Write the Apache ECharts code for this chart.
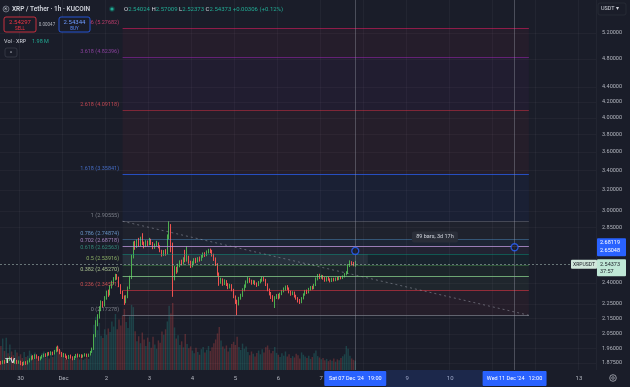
<!DOCTYPE html>
<html><head><meta charset="utf-8">
<script src="https://cdn.jsdelivr.net/npm/echarts@6/dist/echarts.min.js"></script>
<style>html,body{margin:0;padding:0;background:#1a1d29;}#c{width:630px;height:387px;}</style>
</head><body><div id="c"></div>
<script>
// ---------- DATA ----------
const startTime = Date.UTC(2024, 10, 29, 13); // first hourly slot (Nov 29 13:00)
const slotCount = 333;                         // hourly slots shown on the time axis
// hourly candles [open, close, low, high], Nov 29 13:00 -> Dec 7 19:00
const candles = [
[1.880,1.872,1.865,1.886],[1.872,1.885,1.868,1.890],[1.885,1.878,1.870,1.892],[1.878,1.895,1.875,1.902],
[1.895,1.890,1.882,1.905],[1.890,1.904,1.886,1.912],[1.904,1.896,1.888,1.910],[1.896,1.882,1.874,1.900],
[1.882,1.888,1.870,1.895],[1.888,1.876,1.868,1.893],[1.876,1.884,1.870,1.890],
[1.884,1.872,1.862,1.888],[1.872,1.866,1.858,1.880],[1.866,1.878,1.862,1.884],[1.878,1.870,1.864,1.885],
[1.870,1.883,1.866,1.890],[1.883,1.896,1.878,1.902],[1.896,1.910,1.890,1.918],[1.910,1.902,1.895,1.920],
[1.902,1.918,1.898,1.926],[1.918,1.908,1.900,1.925],[1.908,1.896,1.888,1.915],[1.896,1.905,1.890,1.912],
[1.905,1.915,1.900,1.922],[1.915,1.924,1.908,1.930],[1.924,1.918,1.910,1.932],[1.918,1.930,1.914,1.938],
[1.930,1.926,1.918,1.940],[1.926,1.936,1.920,1.944],[1.936,1.928,1.920,1.942],[1.928,1.944,1.924,1.952],
[1.944,1.962,1.938,1.972],[1.962,1.950,1.942,1.978],[1.950,1.934,1.926,1.958],[1.934,1.918,1.910,1.940],
[1.918,1.926,1.908,1.934],[1.926,1.912,1.904,1.930],[1.912,1.904,1.895,1.918],[1.904,1.916,1.898,1.922],
[1.916,1.908,1.900,1.924],[1.908,1.898,1.890,1.914],[1.898,1.910,1.892,1.916],[1.910,1.922,1.904,1.928],
[1.922,1.914,1.906,1.930],[1.914,1.920,1.908,1.926],[1.920,1.912,1.904,1.926],[1.912,1.918,1.906,1.924],
[1.918,1.926,1.912,1.932],[1.926,1.916,1.910,1.930],[1.916,1.924,1.910,1.930],[1.924,1.940,1.918,1.946],
[1.940,1.958,1.934,1.966],[1.958,2.040,1.952,2.050],[2.040,2.120,2.030,2.140],[2.120,2.165,2.100,2.180],
[2.165,2.215,2.150,2.235],[2.215,2.250,2.200,2.275],[2.250,2.240,2.225,2.270],[2.240,2.290,2.232,2.305],
[2.290,2.330,2.280,2.345],[2.330,2.318,2.300,2.352],[2.318,2.372,2.310,2.385],[2.372,2.400,2.360,2.418],
[2.400,2.430,2.388,2.445],[2.430,2.452,2.420,2.470],[2.452,2.440,2.425,2.468],[2.440,2.380,2.370,2.448],
[2.380,2.335,2.320,2.392],[2.335,2.300,2.285,2.345],[2.300,2.268,2.243,2.310],[2.268,2.300,2.255,2.312],
[2.300,2.365,2.290,2.375],[2.365,2.440,2.355,2.455],[2.440,2.600,2.430,2.620],[2.600,2.700,2.590,2.730],
[2.700,2.688,2.660,2.735],[2.688,2.720,2.675,2.745],[2.720,2.700,2.685,2.760],[2.700,2.735,2.690,2.770],
[2.735,2.712,2.700,2.800],[2.712,2.690,2.672,2.728],[2.690,2.722,2.682,2.740],[2.722,2.705,2.692,2.738],
[2.705,2.738,2.698,2.760],[2.738,2.712,2.700,2.752],[2.712,2.680,2.665,2.725],[2.680,2.700,2.668,2.712],
[2.700,2.715,2.690,2.735],[2.715,2.690,2.672,2.722],[2.690,2.650,2.640,2.698],[2.650,2.620,2.605,2.660],
[2.620,2.645,2.610,2.658],[2.645,2.630,2.612,2.665],[2.630,2.760,2.622,2.790],[2.760,2.860,2.748,2.906],
[2.860,2.700,2.640,2.880],[2.700,2.450,2.300,2.720],
[2.450,2.505,2.420,2.530],[2.505,2.490,2.470,2.525],[2.490,2.530,2.480,2.548],[2.530,2.560,2.520,2.575],
[2.560,2.548,2.535,2.580],[2.548,2.585,2.540,2.600],[2.585,2.575,2.560,2.660],[2.575,2.600,2.565,2.690],
[2.600,2.560,2.548,2.612],[2.560,2.530,2.515,2.572],[2.530,2.555,2.520,2.568],[2.555,2.580,2.545,2.592],
[2.580,2.565,2.552,2.595],[2.565,2.590,2.558,2.600],[2.590,2.575,2.565,2.605],[2.575,2.605,2.570,2.618],
[2.605,2.625,2.595,2.638],[2.625,2.615,2.602,2.640],[2.615,2.640,2.608,2.655],[2.640,2.652,2.630,2.668],
[2.652,2.645,2.632,2.670],[2.645,2.618,2.605,2.660],[2.618,2.585,2.570,2.628],[2.585,2.540,2.530,2.598],
[2.540,2.470,2.455,2.552],[2.470,2.410,2.380,2.480],[2.410,2.425,2.395,2.440],[2.425,2.395,2.380,2.435],
[2.395,2.415,2.385,2.428],[2.415,2.390,2.378,2.422],[2.390,2.370,2.355,2.400],[2.370,2.385,2.360,2.395],
[2.385,2.350,2.340,2.392],[2.350,2.300,2.290,2.358],[2.300,2.265,2.250,2.310],[2.265,2.255,2.173,2.280],
[2.255,2.290,2.240,2.300],[2.290,2.310,2.280,2.322],[2.310,2.350,2.300,2.362],[2.350,2.375,2.340,2.390],
[2.375,2.410,2.365,2.420],[2.410,2.430,2.398,2.445],[2.430,2.415,2.402,2.440],[2.415,2.400,2.388,2.425],
[2.400,2.412,2.392,2.422],[2.412,2.395,2.385,2.420],[2.395,2.385,2.372,2.405],[2.385,2.405,2.378,2.415],
[2.405,2.420,2.398,2.432],[2.420,2.438,2.410,2.450],[2.438,2.425,2.412,2.446],[2.425,2.390,2.378,2.432],
[2.390,2.350,2.340,2.398],[2.350,2.325,2.310,2.360],[2.325,2.300,2.285,2.335],[2.300,2.280,2.265,2.312],
[2.280,2.295,2.222,2.305],[2.295,2.310,2.285,2.320],[2.310,2.295,2.282,2.322],[2.295,2.320,2.288,2.330],
[2.320,2.340,2.312,2.350],[2.340,2.355,2.332,2.368],[2.355,2.372,2.345,2.382],[2.372,2.360,2.350,2.385],
[2.360,2.335,2.325,2.368],[2.335,2.320,2.308,2.345],[2.320,2.330,2.312,2.340],[2.330,2.305,2.295,2.338],
[2.305,2.290,2.280,2.315],[2.290,2.275,2.260,2.298],[2.275,2.262,2.250,2.285],[2.262,2.290,2.255,2.298],
[2.290,2.315,2.282,2.325],[2.315,2.340,2.308,2.350],[2.340,2.330,2.320,2.352],[2.330,2.355,2.325,2.365],
[2.355,2.370,2.345,2.378],[2.370,2.362,2.352,2.380],[2.362,2.385,2.355,2.395],[2.385,2.430,2.378,2.442],
[2.430,2.455,2.420,2.468],[2.455,2.440,2.430,2.470],[2.440,2.452,2.432,2.462],[2.452,2.435,2.425,2.460],
[2.435,2.420,2.410,2.445],[2.420,2.438,2.412,2.445],[2.438,2.428,2.418,2.448],[2.428,2.415,2.405,2.435],
[2.415,2.432,2.408,2.440],[2.432,2.420,2.412,2.440],[2.420,2.436,2.414,2.442],[2.436,2.428,2.420,2.445],
[2.428,2.442,2.422,2.450],[2.442,2.435,2.428,2.452],[2.435,2.450,2.430,2.458],[2.450,2.465,2.442,2.475],
[2.465,2.478,2.458,2.490],[2.478,2.530,2.470,2.545],[2.530,2.555,2.522,2.575],[2.555,2.548,2.535,2.568],
[2.548,2.540,2.528,2.562],[2.54024,2.54373,2.52373,2.57009]
];
// hourly volume, millions of XRP
const volumes = [
5.2,6.8,4.1,7.0,3.6,5.5,4.0,3.2,4.4,3.8,3.0,
3.4,2.6,3.9,2.8,3.1,4.2,3.5,2.4,3.8,2.9,2.2,3.0,3.6,4.0,2.7,3.3,2.5,3.9,2.8,3.4,4.6,5.1,4.3,3.6,
3.0,2.5,2.2,2.9,2.4,2.1,2.7,3.2,2.6,2.3,2.8,2.2,2.5,2.9,2.4,3.1,4.5,9.8,11.5,8.6,10.2,7.4,6.9,8.8,
7.6,9.0,8.2,10.5,9.4,12.1,8.8,10.9,9.6,11.8,13.2,10.4,9.1,11.6,14.1,13.6,8.4,6.2,7.3,5.8,8.1,6.6,5.2,7.0,
6.1,4.8,7.2,5.5,4.6,6.4,5.9,8.3,7.6,8.8,10.5,13.9,12.2,14.5,9.2,6.8,7.5,5.4,6.2,4.9,7.8,5.6,4.7,5.1,
4.2,3.6,4.8,3.9,3.3,4.5,5.0,3.8,4.4,5.2,4.1,4.9,5.8,6.6,7.9,9.3,6.4,5.1,4.6,5.3,4.0,4.8,5.6,6.1,
5.4,7.2,5.0,4.3,5.7,4.6,5.1,3.9,3.2,4.0,3.5,2.9,3.7,4.2,3.4,4.5,3.8,4.9,5.3,4.4,3.6,4.1,5.0,3.7,
3.3,2.8,3.6,3.1,4.0,2.9,3.4,2.6,3.0,2.7,3.5,3.2,2.5,3.8,3.3,2.9,2.6,3.1,2.4,2.8,3.6,4.2,3.0,2.7,
2.3,2.6,2.1,2.4,1.9,2.2,2.0,2.5,1.8,2.3,2.1,2.6,3.0,3.4,5.2,4.6,3.1,2.5,2.2,1.98
];
const fibRatios = ['4.236','3.618','2.618','1.618','1','0.786','0.702','0.618','0.5','0.382','0.236','0'];
const fibPrices = [5.27682,4.82396,4.09118,3.35841,2.90555,2.74874,2.68718,2.62563,2.53916,2.45270,2.34571,2.17278];
const fibSpan = [68, 295];            // slot indices of the two fib anchors
const boxSpan = [68, 205];            // grey box between 0.618 and 0.5
const measureSlots = [198, 287];      // Sat 07 Dec 19:00 -> Wed 11 Dec 12:00
const measurePrices = [2.65048, 2.68119];
const measureText = '89 bars, 3d 17h';
const priceTicks = [1.875,1.96,2.05,2.15,2.25,2.4,2.85,3.0,3.2,3.4,3.6,3.8,4.0,4.2,4.4,4.8,5.2];
const lastPrice = 2.54373;
const header = {title:'XRP / Tether · 1h · KUCOIN', o:'2.54024', h:'2.57009', l:'2.52373', c:'2.54373', chg:'+0.00306 (+0.12%)',
  sell:'2.54297', buy:'2.54344', spread:'0.00047', vol:'1.98 M', countdown:'37:57'};

// ---------- STYLE ----------
const FONT = 'Roboto, "Noto Sans", sans-serif';
const BG = '#1a1d29';
const fibColors = ['#e91e63','#9c27b0','#f23645','#2962ff','#787b86','#64b5f6','#b993d6','#089981','#4caf50','#81c784','#f23645','#787b86'];
const fibLineOpacity = [0.55,0.55,0.45,0.7,0.45,0.35,0.8,0.45,0.35,0.8,0.55,0.75];
const fibLabelColors = ['#e2437a','#a348b8','#e8505b','#4f7fe8','#9598a1','#78aee6','#c39be0','#3aa08c','#a5cf72','#c5e1a5','#ee5a5a','#9598a1'];
const UP = '#4caf50', DOWN = '#ef5350';

const categories = [];
for (let i = 0; i < slotCount; i++) categories.push(String(startTime + i * 3600000));

const chart = echarts.init(document.getElementById('c'), null, {renderer: 'canvas'});

const fibLines = fibPrices.map((p, k) => [
  {coord: [fibSpan[0], p], lineStyle: {color: fibColors[k], opacity: fibLineOpacity[k], width: 1, type: 'solid'}},
  {coord: [fibSpan[1], p]}
]);
const fibFills = [];
for (let k = 0; k < fibPrices.length - 1; k++) {
  fibFills.push([
    {coord: [fibSpan[0], fibPrices[k]], itemStyle: {color: fibColors[k], opacity: 0.055}},
    {coord: [fibSpan[1], fibPrices[k + 1]]}
  ]);
}
const fibLabelData = fibPrices.map((p, k) => ({value: [fibSpan[0], p], label: {color: fibLabelColors[k]}}));

chart.setOption({
  animation: false,
  backgroundColor: BG,
  textStyle: {fontFamily: FONT},
  grid: {left: 0, right: 34, top: 0, bottom: 17},
  xAxis: {
    type: 'category', data: categories, boundaryGap: true,
    axisLine: {show: false}, axisTick: {show: false},
    axisLabel: {
      interval: (idx, v) => new Date(+v).getUTCHours() === 0,
      formatter: v => { const d = new Date(+v); return d.getUTCDate() === 1 ? 'Dec' : String(d.getUTCDate()); },
      color: '#b2b5be', fontSize: 6, margin: 5, fontFamily: FONT
    },
    splitLine: {show: true, interval: (idx, v) => new Date(+v).getUTCHours() === 0, lineStyle: {color: 'rgba(255,255,255,0.04)', width: 1}}
  },
  yAxis: [{
    type: 'log', logBase: 10, position: 'right', min: 1.8345, max: 5.758,
    axisLine: {show: false},
    axisTick: {show: false, customValues: priceTicks},
    axisLabel: {customValues: priceTicks, formatter: v => Number(v).toFixed(5), color: '#b2b5be', fontSize: 5.5, margin: 6, fontFamily: FONT},
    splitLine: {show: true, lineStyle: {color: 'rgba(255,255,255,0.035)', width: 1}}
  }, {
    type: 'value', min: 0, max: 80, show: false, splitLine: {show: false}
  }],
  series: [
    { // fib fills + lines + trend line
      type: 'line', data: [], z: 1, silent: true,
      markArea: {silent: true, data: fibFills.concat([[
        {coord: [boxSpan[0], fibPrices[7]], itemStyle: {color: 'rgba(150,155,170,0.12)'}},
        {coord: [boxSpan[1], fibPrices[8]]}
      ]])},
      markLine: {silent: true, symbol: ['none', 'none'], label: {show: false},
        data: fibLines.concat([[
          {coord: [fibSpan[0], fibPrices[4]], lineStyle: {color: 'rgba(160,163,175,0.5)', width: 1, type: [2, 3]}},
          {coord: [fibSpan[1], fibPrices[11]]}
        ]])}
    },
    {
      type: 'bar', yAxisIndex: 1, z: 2, barWidth: '80%', silent: true,
      data: volumes.map((v, i) => ({value: v, itemStyle: {color: candles[i][1] >= candles[i][0] ? 'rgba(38,166,154,0.28)' : 'rgba(239,83,80,0.28)'}}))
    },
    {
      type: 'candlestick', z: 3, barWidth: 1.1, silent: true,
      data: candles,
      itemStyle: {color: UP, color0: DOWN, borderColor: UP, borderColor0: DOWN, borderWidth: 1},
      markLine: {silent: true, symbol: ['none', 'none'], label: {show: false},
        data: [
          {yAxis: lastPrice, lineStyle: {color: 'rgba(170,190,185,0.55)', type: [2, 2], width: 1}},
          {xAxis: measureSlots[0], lineStyle: {color: 'rgba(150,153,165,0.4)', type: 'solid', width: 1}},
          {xAxis: measureSlots[1], lineStyle: {color: 'rgba(150,153,165,0.4)', type: 'solid', width: 1}}
        ]}
    },
    { // fib labels
      type: 'scatter', z: 4, symbolSize: 1, itemStyle: {color: 'rgba(0,0,0,0)'}, silent: true,
      data: fibLabelData,
      label: {show: true, position: 'left', distance: 3, offset: [0, -6], fontSize: 5.5, fontFamily: FONT,
        formatter: p => fibRatios[p.dataIndex] + ' (' + fibPrices[p.dataIndex].toFixed(5) + ')'}
    },
    { // measure anchors
      type: 'scatter', z: 5, symbol: 'circle', symbolSize: 7, silent: true,
      itemStyle: {color: BG, borderColor: '#2962ff', borderWidth: 1.3},
      data: measureSlots.map((s, k) => [s, measurePrices[k]])
    }
  ]
});

// ---------- overlay annotations (positions from the chart's own scales) ----------
function px(i, p) { return chart.convertToPixel({xAxisIndex: 0, yAxisIndex: 0}, [i, p]); }
const m0 = px(measureSlots[0], measurePrices[0]);
const m1 = px(measureSlots[1], measurePrices[1]);
const lp = px(0, lastPrice);
const axisX = 596, axisTop = 370;
const G = [];
function txt(x, y, t, o) { G.push(Object.assign({type: 'text', x, y, z: 100, style: Object.assign({text: t, fill: '#d1d4dc', font: '6px ' + FONT, textVerticalAlign: 'middle'}, o || {})})); }
function rect(x, y, w, h, o, r) { G.push({type: 'rect', z: 99, shape: {x, y, width: w, height: h, r: r || 0}, style: o}); }

// header
G.push({type: 'circle', z: 100, shape: {cx: 6, cy: 9, r: 3}, style: {fill: '#2a2e39', stroke: '#9aa0ae', lineWidth: 0.6}});
txt(3.9, 9.2, '✕', {font: '4px ' + FONT, fill: '#e0e3eb'});
txt(12, 9, header.title, {font: '600 6.5px ' + FONT, fill: '#d1d4dc'});
G.push({type: 'circle', z: 100, shape: {cx: 112, cy: 9, r: 2.8}, style: {fill: 'rgba(8,153,129,0.35)'}});
G.push({type: 'circle', z: 101, shape: {cx: 112, cy: 9, r: 1.6}, style: {fill: '#22ab94'}});
G.push({type: 'text', x: 124, y: 9, z: 100, style: {
  text: '{l|O}{v|' + header.o + '} {l|H}{v|' + header.h + '} {l|L}{v|' + header.l + '} {l|C}{v|' + header.c + '} {v|' + header.chg + '}',
  textVerticalAlign: 'middle', font: '6px ' + FONT,
  rich: {l: {fill: '#d1d4dc', font: '6px ' + FONT}, v: {fill: '#22ab94', font: '6px ' + FONT}}}});
rect(4, 17, 32, 15, {fill: BG, stroke: '#f23645', lineWidth: 0.8}, 2);
txt(20, 22, header.sell, {fill: '#f23645', textAlign: 'center', font: '6px ' + FONT});
txt(20, 28.5, 'SELL', {fill: '#f23645', textAlign: 'center', font: '4.5px ' + FONT});
txt(47, 24.5, header.spread, {fill: '#b2b5be', textAlign: 'center', font: '4.5px ' + FONT});
rect(59, 17, 31, 15, {fill: BG, stroke: '#2962ff', lineWidth: 0.8}, 2);
txt(74.5, 22, header.buy, {fill: '#6e9bff', textAlign: 'center', font: '6px ' + FONT});
txt(74.5, 28.5, 'BUY', {fill: '#5b8cff', textAlign: 'center', font: '4.5px ' + FONT});
txt(4, 42, 'Vol · XRP', {fill: '#d1d4dc', font: '5.5px ' + FONT});
txt(32, 42, header.vol, {fill: '#22ab94', font: '5.5px ' + FONT});
rect(5, 48, 12, 9, {fill: 'none', stroke: '#3a3e4a', lineWidth: 0.8}, 2);
txt(11, 53, '^', {fill: '#b2b5be', textAlign: 'center', font: '6px ' + FONT});

// measure tooltip
const midX = (m0[0] + m1[0]) / 2;
rect(midX - 23, 231.5, 46, 11, {fill: '#2a2e39'}, 2);
txt(midX, 237, measureText, {fill: '#d1d4dc', textAlign: 'center', font: '5.5px ' + FONT});

// price axis labels
rect(598, 3, 28, 12, {fill: BG, stroke: '#2a2e39', lineWidth: 0.8}, 2);
txt(601, 9, 'USDT ▾', {fill: '#d1d4dc', font: '5.5px ' + FONT});
rect(axisX + 1, m1[1] - 9, 29, 18, {fill: '#2962ff'}, 1);
txt(axisX + 4, m1[1] - 4.5, measurePrices[1].toFixed(5), {fill: '#ffffff', font: '5.5px ' + FONT});
txt(axisX + 4, m1[1] + 3.5, measurePrices[0].toFixed(5), {fill: '#ffffff', font: '5.5px ' + FONT});
rect(571, lp[1] - 4.5, 26, 9, {fill: '#cfe6da'}, 1);
txt(584, lp[1], 'XRPUSDT', {fill: '#1b1e28', textAlign: 'center', font: '5px ' + FONT});
rect(axisX + 1, lp[1] - 5, 29, 17, {fill: '#bfe7d6'}, 1);
txt(axisX + 4, lp[1], lastPrice.toFixed(5), {fill: '#1b1e28', font: '5.5px ' + FONT});
txt(axisX + 4, lp[1] + 7, header.countdown, {fill: '#1b1e28', font: '5.5px ' + FONT});

// time axis labels
rect(m0[0] + 31, axisTop, m1[0] - m0[0] - 63, 17, {fill: 'rgba(41,98,255,0.16)'});
rect(m0[0] - 31, axisTop + 1, 62, 15, {fill: '#2962ff'}, 1);
txt(m0[0], axisTop + 8.5, "Sat 07 Dec '24   19:00", {fill: '#ffffff', textAlign: 'center', font: '5.5px ' + FONT});
rect(m1[0] - 32, axisTop + 1, 64, 15, {fill: '#2962ff'}, 1);
txt(m1[0], axisTop + 8.5, "Wed 11 Dec '24   12:00", {fill: '#ffffff', textAlign: 'center', font: '5.5px ' + FONT});
G.push({type: 'circle', z: 100, shape: {cx: 613, cy: 378, r: 3.3}, style: {fill: 'none', stroke: '#b2b5be', lineWidth: 0.8}});
G.push({type: 'circle', z: 100, shape: {cx: 613, cy: 378, r: 1.3}, style: {fill: 'none', stroke: '#b2b5be', lineWidth: 0.7}});
// logo
txt(5, 361, 'TV', {fill: '#d1d4dc', font: 'bold 8px ' + FONT});

chart.setOption({graphic: G});
</script></body></html>
